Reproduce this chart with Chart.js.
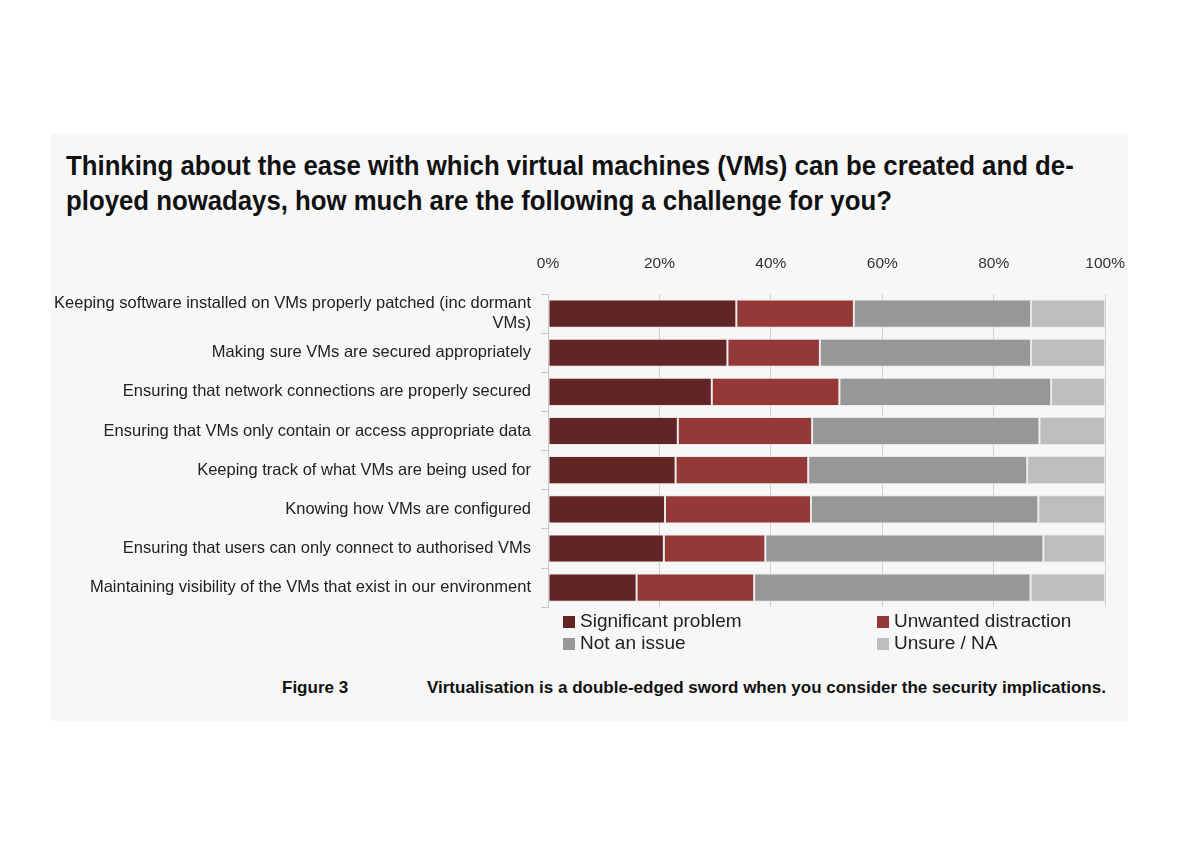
<!DOCTYPE html>
<html>
<head>
<meta charset="utf-8">
<script src="https://cdn.jsdelivr.net/npm/chart.js@4/dist/chart.umd.min.js"></script>
<style>
  body { margin: 0; background: #fff; width: 1191px; height: 851px; position: relative; overflow: hidden; }
  #panel { position: absolute; left: 51px; top: 134px; width: 1077px; height: 587px; background: #f7f7f7; }
  .titre { position: absolute; left: 66px; font-family: "Liberation Sans", Arial, sans-serif; white-space: nowrap;
           font-weight: bold; font-size: 28px; line-height: 35px; color: #111;
           transform: scaleX(0.92); transform-origin: left top; }
  #zone { position: absolute; left: 51px; top: 245px; width: 1095px; height: 392px; }
  #legende { position: absolute; left: 563px; top: 610px; width: 560px; font-family: "Liberation Sans", Arial, sans-serif;
             font-size: 19px; color: #222; }
  .item { position: absolute; white-space: nowrap; line-height: 22px; }
  .carre { display: inline-block; width: 12px; height: 12px; margin-right: 5px; vertical-align: -1px; }
  .legende-bas { position: absolute; top: 678px; font-family: "Liberation Sans", Arial, sans-serif; white-space: nowrap;
                 font-weight: bold; font-size: 17px; color: #111; }
</style>
</head>
<body>
<div id="panel"></div>
<div class="titre" style="top:148px">Thinking about the ease with which virtual machines (VMs) can be created and de-</div>
<div class="titre" style="top:183px">ployed nowadays, how much are the following a challenge for you?</div>
<div id="zone"><canvas id="graphique"></canvas></div>
<div id="legende"></div>
<div class="legende-bas" style="left:282px">Figure 3</div>
<div class="legende-bas" style="left:427px">Virtualisation is a double-edged sword when you consider the security implications.</div>
<script>
var libelles = [
  ["Keeping software installed on VMs properly patched (inc dormant", "VMs)"],
  "Making sure VMs are secured appropriately",
  "Ensuring that network connections are properly secured",
  "Ensuring that VMs only contain or access appropriate data",
  "Keeping track of what VMs are being used for",
  "Knowing how VMs are configured",
  "Ensuring that users can only connect to authorised VMs",
  "Maintaining visibility of the VMs that exist in our environment"
];

var significatif = [33.8, 32.2, 29.4, 23.3, 22.9, 21.0, 20.8, 15.9];
var distraction  = [21.1, 16.6, 22.9, 24.1, 23.8, 26.2, 18.2, 21.1];
var pasProbleme  = [31.8, 37.9, 38.0, 40.8, 39.3, 40.8, 49.9, 49.6];
var incertain    = [13.3, 13.3,  9.7, 11.8, 14.0, 12.0, 11.1, 13.4];

var graduations = [0, 20, 40, 60, 80, 100];

var series = [
  { nom: "Significant problem",  valeurs: significatif, couleur: "#632425" },
  { nom: "Unwanted distraction", valeurs: distraction,  couleur: "#953838" },
  { nom: "Not an issue",         valeurs: pasProbleme,  couleur: "#979797" },
  { nom: "Unsure / NA",          valeurs: incertain,    couleur: "#bdbdbd" }
];

var police = "'Liberation Sans', Arial, sans-serif";

new Chart(document.getElementById("graphique"), {
  type: "bar",
  data: {
    labels: libelles,
    datasets: series.map(function(s) {
      return {
        label: s.nom,
        data: s.valeurs,
        backgroundColor: s.couleur,
        borderColor: "rgba(230,230,230,0.9)",
        borderWidth: 1,
        borderSkipped: false,
        barPercentage: 0.72,
        categoryPercentage: 1
      };
    })
  },
  options: {
    indexAxis: "y",
    responsive: true,
    maintainAspectRatio: false,
    animation: false,
    layout: { padding: { top: 0, right: 3, bottom: 4, left: 0 } },
    plugins: {
      legend: { display: false },
      tooltip: { enabled: false }
    },
    scales: {
      x: {
        position: "top",
        stacked: true,
        min: 0,
        max: 100,
        afterBuildTicks: function(axe) {
          axe.ticks = graduations.map(function(v) { return { value: v }; });
        },
        afterFit: function(axe) { axe.height = 49; },
        border: { display: false },
        grid: { color: "#d2d2d2", lineWidth: 1, drawTicks: false },
        ticks: {
          padding: 21,
          color: "#333",
          font: { family: police, size: 15.5 },
          callback: function(v) { return v + "%"; }
        }
      },
      y: {
        stacked: true,
        afterFit: function(axe) { axe.width = 497; },
        border: { display: true, color: "#c8c8c8" },
        grid: { offset: true, drawOnChartArea: false, color: "#c8c8c8", tickLength: 7 },
        ticks: {
          autoSkip: false,
          padding: 10,
          color: "#222",
          font: { family: police, size: 16.5 }
        }
      }
    }
  }
});

// légende en deux colonnes
var el = document.getElementById("legende");
var html = "";
series.forEach(function(s, i) {
  var gauche = (i % 2) * 314;
  var haut = Math.floor(i / 2) * 22;
  html += "<div class='item' style='left:" + gauche + "px;top:" + haut + "px'>" +
    "<span class='carre' style='background:" + s.couleur + "'></span>" + s.nom + "</div>";
});
el.innerHTML = html;
</script>
</body>
</html>
